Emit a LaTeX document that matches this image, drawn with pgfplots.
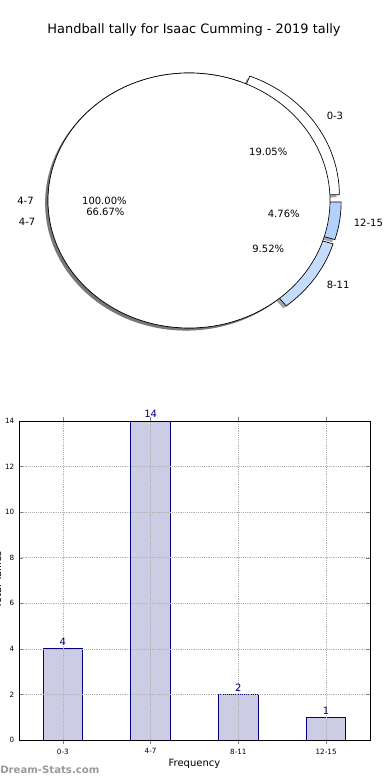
\documentclass[border=0pt]{standalone}
\usepackage{pgfplots}
\pgfplotsset{compat=1.18}
\usepackage{fontspec}
\setmainfont{DejaVu Sans}
\definecolor{barfill}{RGB}{204,204,229}
\definecolor{navyc}{RGB}{0,0,128}
\definecolor{blueA}{RGB}{198,220,255}
\definecolor{blueB}{RGB}{179,209,255}
\newcommand\fs[1]{\fontsize{#1}{#1}\selectfont}
% pie wedge: start, end, explode, fill colour
\newcommand\pieW[4]{%
  \fill[black!70, fill opacity=0.5]
    (axis cs:{#3*cos((#1+#2)/2)-0.02},{#3*sin((#1+#2)/2)-0.02})
    -- (axis cs:{#3*cos((#1+#2)/2)-0.02+cos(#1)},{#3*sin((#1+#2)/2)-0.02+sin(#1)})
    arc[start angle=#1, end angle=#2, x radius=105.75pt, y radius=95.625pt] -- cycle;
  \filldraw[fill=#4, draw=black, line width=0.5pt]
    (axis cs:{#3*cos((#1+#2)/2)},{#3*sin((#1+#2)/2)})
    -- (axis cs:{#3*cos((#1+#2)/2)+cos(#1)},{#3*sin((#1+#2)/2)+sin(#1)})
    arc[start angle=#1, end angle=#2, x radius=105.75pt, y radius=95.625pt] -- cycle;
}
\begin{document}
\begin{tikzpicture}
\useasboundingbox (0,0) rectangle (292.5pt,-585pt);
% values: 0-3: 4, 4-7: 14, 8-11: 2, 12-15: 1 (total 21)
\pgfmathsetmacro\aA{360*4/21}
\pgfmathsetmacro\aB{360*18/21}
\pgfmathsetmacro\aC{360*20/21}
\node[font=\fs{9.7pt}] at (145.5pt,-22.5pt) {Handball tally for Isaac Cumming - 2019 tally};
\begin{axis}[at={(0pt,-256.5pt)}, anchor=south west, scale only axis,
  width=292.5pt, height=210pt,
  xmin=-1.3404, xmax=1.4255, ymin=-1.1098, ymax=1.0863,
  hide axis, clip=false]
  \pieW{0}{\aA}{0.08}{white}
  \pieW{\aA}{\aB}{0}{white}
  \pieW{\aB}{\aC}{0.08}{blueA}
  \pieW{\aC}{360}{0.08}{blueB}
  \fill[black!70, fill opacity=0.5] (axis cs:-0.02,-0.02) ellipse[x radius=105.75pt, y radius=95.625pt];
  \filldraw[fill=white, draw=black, line width=0.5pt] (axis cs:0,0) ellipse[x radius=105.75pt, y radius=95.625pt];
  \begin{scope}[every node/.style={font=\fs{7.5pt}, inner sep=0pt}]
  \node[anchor=west] at (axis cs:0.975,0.665) {0-3};
  \node[anchor=west] at (axis cs:1.167,-0.176) {12-15};
  \node[anchor=west] at (axis cs:0.975,-0.665) {8-11};
  \node[anchor=east] at (axis cs:-1.088,-0.164) {4-7};
  \node[anchor=east] at (axis cs:-1.1,0) {4-7};
  \node at (axis cs:0.562,0.383) {19.05\%};
  \node at (axis cs:0.672,-0.101) {4.76\%};
  \node at (axis cs:0.562,-0.383) {9.52\%};
  \node at (axis cs:-0.593,-0.089) {66.67\%};
  \node at (axis cs:-0.6,0) {100.00\%};
  \end{scope}
\end{axis}
\begin{axis}[at={(14.25pt,-555pt)}, anchor=south west, scale only axis,
  width=263.25pt, height=239.25pt,
  xmin=-0.5, xmax=3.5, ymin=0, ymax=14,
  ytick={0,2,4,6,8,10,12,14},
  xtick={0,1,2,3}, xticklabels={0-3,4-7,8-11,12-15},
  /pgf/number format/assume math mode=true,
  tick label style={font=\fs{5.4pt}},
  tick align=inside, major tick length=3pt,
  grid=major, major grid style={densely dotted, gray!60, line width=0.5pt},
  axis on top,
  axis line style={line width=0.6pt},
  xlabel={Frequency}, xlabel style={font=\fs{7.5pt}, yshift=3pt},
  ybar, bar width=0.45,
  nodes near coords,
  every node near coord/.append style={font=\fs{7.5pt}, text=navyc, inner sep=2pt},
]
\addplot[fill=barfill, draw=navyc, line width=0.6pt] coordinates {(0,4) (1,14) (2,2) (3,1)};
\end{axis}
\node[rotate=90, anchor=base, font=\fs{7.5pt}] at (0.8pt,-435pt) {Total Tallies};
\node[anchor=west, font=\bfseries\fs{7.6pt}, text=black!40, inner sep=0pt] at (0pt,-577.5pt) {Dream-Stats.com};
\end{tikzpicture}
\end{document}
